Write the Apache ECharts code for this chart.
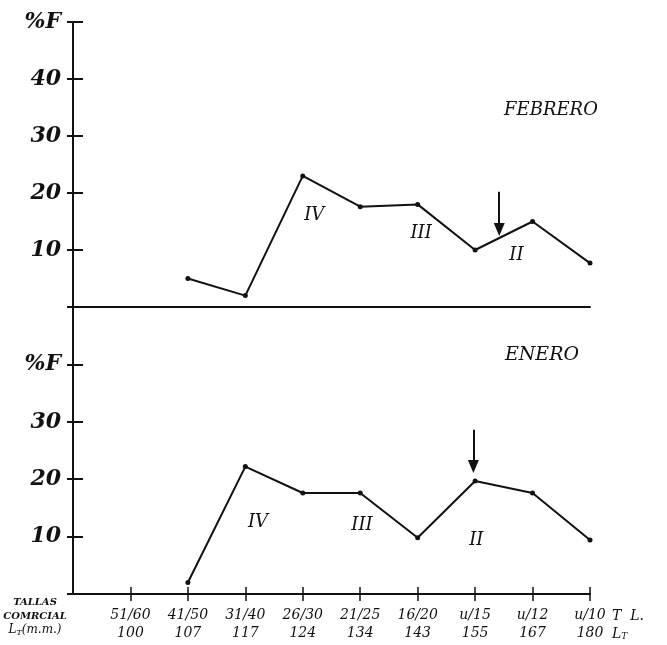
<!DOCTYPE html>
<html>
<head>
<meta charset="utf-8">
<script src="https://cdn.jsdelivr.net/npm/echarts@6/dist/echarts.min.js"></script>
<style>
  html, body { margin: 0; padding: 0; background: #fff; }
  #chart { width: 667px; height: 645px; }
</style>
</head>
<body>
<div id="chart"></div>
<script>
// tallas comerciales y longitud total (mm)
var tallas = ['51/60', '41/50', '31/40', '26/30', '21/25', '16/20', 'u/15', 'u/12', 'u/10'];
var longitud = ['100', '107', '117', '124', '134', '143', '155', '167', '180'];
// % frecuencia por talla
var febrero = [null, 5, 2, 23, 17.6, 18, 10, 15, 7.7];
var enero = [null, 2, 22.2, 17.6, 17.6, 9.8, 19.7, 17.6, 9.4];

var serif = 'DejaVu Serif';
var black = '#111';

// posiciones de las tallas en el eje x (1..9)
var xPos = tallas.map(function (t, i) { return i + 1; });

function toPoints (arr) {
  var out = [];
  arr.forEach(function (v, i) {
    if (v !== null) out.push([i + 1, v]);
  });
  return out;
}

function yLabel (top) {
  return function (v) {
    if (top && v === 50) return '%F';
    if (!top && v === 40) return '%F';
    if (v === 0 || v === 50) return '';
    return v;
  };
}

function romano (x, y, txt) {
  return { coord: [x, y], value: txt };
}

const myChart = echarts.init(document.getElementById('chart'));

const axisLabelY = {
  fontFamily: serif, fontStyle: 'italic', fontWeight: 'bold', fontSize: 22, color: black, margin: 12
};

// eje y con marcas exteriores + eje y gemelo con marcas interiores
function ejeY (grid, top) {
  return [{
    gridIndex: grid, type: 'value', position: 'left', min: 0, max: 50, interval: 10,
    axisLine: { show: true, lineStyle: { color: black, width: 2 } },
    axisTick: { show: true, length: 6, lineStyle: { color: black, width: 2 } },
    axisLabel: Object.assign({ formatter: yLabel(top) }, axisLabelY),
    splitLine: { show: false }
  }, {
    gridIndex: grid, type: 'value', position: 'left', offset: 0, min: 0, max: 50, interval: 10,
    axisLine: { show: false },
    axisTick: { show: true, inside: true, length: 10, lineStyle: { color: black, width: 2 } },
    axisLabel: { show: false }, splitLine: { show: false }
  }];
}

const option = {
  animation: false,
  backgroundColor: '#fff',
  grid: [
    { left: 73, top: 22, width: 517, height: 285 },
    { left: 73, top: 307, width: 517, height: 287 }
  ],
  xAxis: [{
    gridIndex: 0, type: 'value', position: 'bottom', min: 0, max: 9, interval: 1,
    axisLine: { lineStyle: { color: black, width: 2 } },
    axisTick: { show: false }, axisLabel: { show: false }, splitLine: { show: false }
  }, {
    gridIndex: 1, type: 'value', position: 'bottom', min: 0, max: 9, interval: 1,
    axisLine: { lineStyle: { color: black, width: 2 } },
    axisTick: { show: true, length: 7, customValues: xPos, lineStyle: { color: black, width: 1.5 } },
    axisLabel: {
      margin: 12, lineHeight: 18, customValues: xPos,
      fontFamily: serif, fontStyle: 'italic', fontSize: 14, color: black,
      formatter: function (v) {
        if (v < 1) return '';
        return tallas[v - 1] + '\n' + longitud[v - 1];
      }
    },
    splitLine: { show: false }
  }, {
    // marcas interiores del eje x
    gridIndex: 1, type: 'value', position: 'bottom', offset: 0, min: 0, max: 9, interval: 1,
    axisLine: { show: false },
    axisTick: { show: true, inside: true, length: 7, customValues: xPos, lineStyle: { color: black, width: 1.5 } },
    axisLabel: { show: false }, splitLine: { show: false }
  }],
  yAxis: ejeY(0, true).concat(ejeY(1, false)),
  series: [{
    name: 'FEBRERO',
    type: 'line',
    xAxisIndex: 0, yAxisIndex: 0,
    data: toPoints(febrero),
    symbol: 'circle', symbolSize: 5,
    itemStyle: { color: black },
    lineStyle: { color: black, width: 2 },
    markLine: {
      silent: true, symbol: ['none', 'triangle'], symbolSize: [11, 13],
      lineStyle: { color: black, width: 2, type: 'solid' },
      label: { show: false },
      data: [[{ coord: [7.42, 20.2] }, { coord: [7.42, 13.6] }]]
    },
    markPoint: {
      silent: true, symbol: 'circle', symbolSize: 0,
      label: {
        show: true, position: 'inside', formatter: '{c}',
        fontFamily: serif, fontStyle: 'italic', fontSize: 18, color: black
      },
      data: [romano(4.2, 16.1, 'IV'), romano(6.06, 13, 'III'), romano(7.72, 9.1, 'II')]
    }
  }, {
    name: 'ENERO',
    type: 'line',
    xAxisIndex: 1, yAxisIndex: 2,
    data: toPoints(enero),
    symbol: 'circle', symbolSize: 5,
    itemStyle: { color: black },
    lineStyle: { color: black, width: 2 },
    markLine: {
      silent: true, symbol: ['none', 'triangle'], symbolSize: [11, 13],
      lineStyle: { color: black, width: 2, type: 'solid' },
      label: { show: false },
      data: [[{ coord: [6.97, 28.6] }, { coord: [6.97, 22.2] }]]
    },
    markPoint: {
      silent: true, symbol: 'circle', symbolSize: 0,
      label: {
        show: true, position: 'inside', formatter: '{c}',
        fontFamily: serif, fontStyle: 'italic', fontSize: 18, color: black
      },
      data: [romano(3.22, 12.4, 'IV'), romano(5.03, 12, 'III'), romano(7.02, 9.4, 'II')]
    }
  }],
  graphic: [{
    type: 'text', x: 551, y: 110,
    style: { text: 'FEBRERO', align: 'center', verticalAlign: 'middle', fontFamily: serif, fontStyle: 'italic', fontSize: 18, fill: black }
  }, {
    type: 'text', x: 542, y: 355,
    style: { text: 'ENERO', align: 'center', verticalAlign: 'middle', fontFamily: serif, fontStyle: 'italic', fontSize: 19, fill: black }
  }, {
    type: 'text', x: 35, y: 595,
    style: {
      text: 'TALLAS\nCOMRCIAL\n{l|L}{s|T}{l|(m.m.)}',
      align: 'center', fontFamily: serif, fontStyle: 'italic', fontWeight: 'bold',
      fontSize: 10, lineHeight: 14, fill: black,
      rich: {
        l: { fontFamily: serif, fontStyle: 'italic', fontSize: 12, fill: black },
        s: { fontFamily: serif, fontStyle: 'italic', fontSize: 8, fill: black, padding: [5, 0, 0, 0] }
      }
    }
  }, {
    type: 'text', x: 612, y: 607,
    style: {
      text: 'T  L.\n{l|L}{s|T}', fontFamily: serif, fontStyle: 'italic', fontSize: 14, lineHeight: 18, fill: black,
      rich: {
        l: { fontFamily: serif, fontStyle: 'italic', fontSize: 14, fill: black },
        s: { fontFamily: serif, fontStyle: 'italic', fontSize: 9, fill: black, padding: [5, 0, 0, 0] }
      }
    }
  }]
};

myChart.setOption(option);
window.addEventListener('resize', function () {
  myChart.resize();
});
</script>
</body>
</html>
